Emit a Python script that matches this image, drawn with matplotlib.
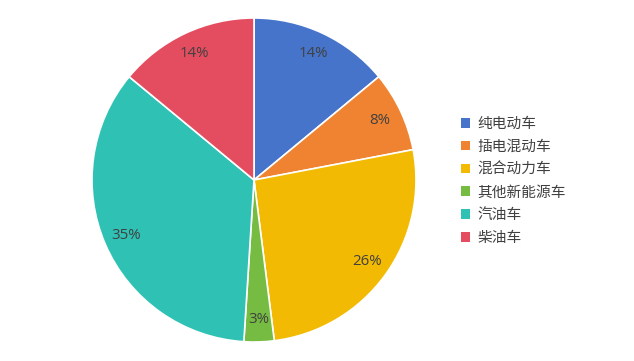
import matplotlib
matplotlib.use("Agg")
import matplotlib.pyplot as plt
from matplotlib.patches import Patch

plt.rcParams['font.family'] = ['Noto Sans CJK SC', 'DejaVu Sans']

categories = ["纯电动车", "插电混动车", "混合动力车", "其他新能源车", "汽油车", "柴油车"]
values = [14, 8, 26, 3, 35, 14]
colors = ["#4674CA", "#EF8332", "#F2BA02", "#76BC43", "#2FC1B4", "#E44D5F"]

W, H = 634, 361
fig = plt.figure(figsize=(W/100, H/100), dpi=100)
cx, cy, r = 254, 180, 162
ax = fig.add_axes([(cx - r)/W, (H - cy - r)/H, 2*r/W, 2*r/H])
wedges, texts, autotexts = ax.pie(values, colors=colors, startangle=90, counterclock=False,
                                  autopct=lambda p: f"{p:.0f}%", pctdistance=0.86,
                                  wedgeprops=dict(edgecolor="white", linewidth=1.2),
                                  textprops=dict(color="#404040", fontsize=10.8,
                                                 family=['Open Sans', 'DejaVu Sans']))
ax.set_xlim(-1, 1)
ax.set_ylim(-1, 1)
ax.set_aspect('equal')
ax.axis('off')

handles = [Patch(facecolor=c, edgecolor='none') for c in colors]
fig.legend(handles, categories, loc='upper left', bbox_to_anchor=(455/W, 1 - 111/H),
           frameon=False, fontsize=10.6, labelcolor="#404040",
           handlelength=0.65, handleheight=0.65, handletextpad=0.5, labelspacing=0.6,
           borderaxespad=0)

fig.savefig("out.png", dpi=100)
